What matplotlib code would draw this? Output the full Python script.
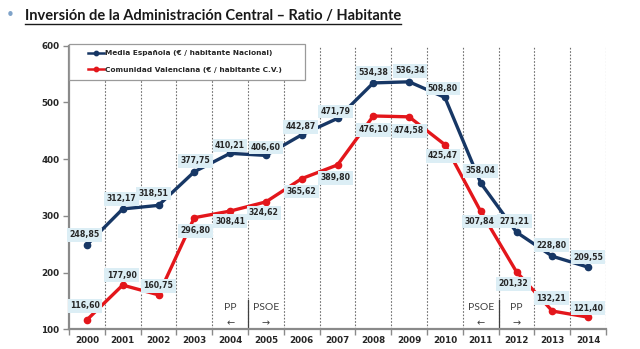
import matplotlib
matplotlib.use("Agg")
import matplotlib.pyplot as plt
from matplotlib.lines import Line2D
from matplotlib.patches import Rectangle

years = ["2000", "2001", "2002", "2003", "2004", "2005", "2006", "2007",
         "2008", "2009", "2010", "2011", "2012", "2013", "2014"]
media_espanola = [248.85, 312.17, 318.51, 377.75, 410.21, 406.60, 442.87, 471.79,
                  534.38, 536.34, 508.80, 358.04, 271.21, 228.80, 209.55]
comunidad_valenciana = [116.60, 177.90, 160.75, 296.80, 308.41, 324.62, 365.62, 389.80,
                        476.10, 474.58, 425.47, 307.84, 201.32, 132.21, 121.40]

# label offsets (pixels) for the value boxes
off_esp = [(-2, 10), (-1, 10), (-5, 12), (1, 11), (0, 8), (0, 8), (-1, 8), (-2, 7),
           (0, 10), (1, 11), (-2, 9), (0, 12), (-2, 11), (-1, 11), (0, 10)]
off_cv = [(-2, 14), (-1, 10), (0, 9), (1, -13), (0, -10), (-2, -11), (0, -13), (-2, -13),
          (0, -14), (0, -14), (-2, -11), (-1, -10), (-3, -12), (-1, 13), (0, 9)]

BLUE = "#173765"
RED = "#E3161B"
GRAY = "#8A8A8A"
TXT = "#262626"
W, H = 640, 349

fig = plt.figure(figsize=(6.4, 3.49), dpi=100)
ax = fig.add_axes([69 / W, 1 - 329.3 / H, (606 - 69) / W, (329.3 - 45.7) / H])

x = list(range(len(years)))

# dotted separators between years
for b in range(len(years)):
    ax.axvline(b + 0.5, color="#707070", lw=0.8, ls=(0, (1.5, 1.5)), zorder=1)

ax.plot(x, media_espanola, color=BLUE, lw=2.4, marker="o", ms=4.5, zorder=3,
        label="Media Española (€ / habitante Nacional)")
ax.plot(x, comunidad_valenciana, color=RED, lw=2.4, marker="o", ms=4.5, zorder=3,
        label="Comunidad Valenciana (€ / habitante C.V.)")

box = dict(boxstyle="square,pad=0.3", fc="#DCEEF5", ec="none")
for xi, v, (dx, dy) in zip(x, media_espanola, off_esp):
    ax.annotate(f"{v:.2f}".replace(".", ","), (xi, v), xytext=(dx, dy),
                textcoords="offset pixels", ha="center", va="center",
                fontsize=5.6, fontweight="bold", color=TXT, bbox=box, zorder=4)
for xi, v, (dx, dy) in zip(x, comunidad_valenciana, off_cv):
    ax.annotate(f"{v:.2f}".replace(".", ","), (xi, v), xytext=(dx, dy),
                textcoords="offset pixels", ha="center", va="center",
                fontsize=5.6, fontweight="bold", color=TXT, bbox=box, zorder=4)

# government change markers
for b, left, right in [(4.5, "PP", "PSOE"), (11.5, "PSOE", "PP")]:
    ax.plot([b, b], [100, 152], color="#404040", lw=0.9, zorder=2)
    ax.text(b - 0.5, 138, left, ha="center", va="center", fontsize=7.5,
            family="Lato", color="#404040")
    ax.text(b + 0.5, 138, right, ha="center", va="center", fontsize=7.5,
            family="Lato", color="#404040")
    ax.text(b - 0.5, 110, "←", ha="center", va="center", fontsize=7, color="#404040")
    ax.text(b + 0.5, 110, "→", ha="center", va="center", fontsize=7, color="#404040")

ax.set_xlim(-0.5, len(years) - 0.5)
ax.set_ylim(100, 600)
ax.set_xticks(x)
ax.set_xticklabels(years)
ax.set_xticks([b - 0.5 for b in range(len(years) + 1)], minor=True)
ax.set_yticks(range(100, 601, 100))
ax.tick_params(axis="x", which="major", length=0, pad=4.5, labelsize=6.3, labelcolor=TXT)
ax.tick_params(axis="x", which="minor", length=4, width=1, color=GRAY)
ax.tick_params(axis="y", length=4, width=1, color=GRAY, labelsize=6.3, labelcolor=TXT, pad=3)
for lab in ax.get_xticklabels() + ax.get_yticklabels():
    lab.set_fontweight("bold")
for s in ["top", "right"]:
    ax.spines[s].set_visible(False)
for s in ["left", "bottom"]:
    ax.spines[s].set_color(GRAY)
    ax.spines[s].set_linewidth(1.6)

# legend panel
ax.add_patch(Rectangle((69 / W, 1 - 80 / H), (305 - 69) / W, 36 / H,
                       transform=fig.transFigure, facecolor="white",
                       edgecolor="#9A9A9A", lw=0.9, zorder=4.5, clip_on=False))
leg = ax.legend(loc="upper left", bbox_to_anchor=(88 / W, 1 - 50 / H),
                bbox_transform=fig.transFigure, borderaxespad=0, borderpad=0,
                frameon=False, prop=dict(size=5.3, weight="bold"),
                handlelength=2.2, markerscale=0.7, handletextpad=0.1,
                labelspacing=1.45, labelcolor=TXT)
for h in leg.get_lines():
    h.set_linewidth(1.8)
leg.set_zorder(5)

# title with bullet and underline
fig.text(10 / W, 1 - 16 / H, "•", fontsize=11, color="#7FA3C9", va="center", ha="center")
title = fig.text(25 / W, 1 - 16 / H, "Inversión de la Administración Central – Ratio / Habitante",
                 fontsize=10.5, fontweight="bold", family="Lato", color="#1A1A1A",
                 va="center", ha="left")
fig.canvas.draw()
bb = title.get_window_extent()
fig.add_artist(Line2D([bb.x0 / W, bb.x1 / W], [(bb.y0 - 0.5) / H] * 2,
                      color="#1A1A1A", lw=1.0, transform=fig.transFigure))

fig.savefig("out.png", dpi=100, facecolor="white")
